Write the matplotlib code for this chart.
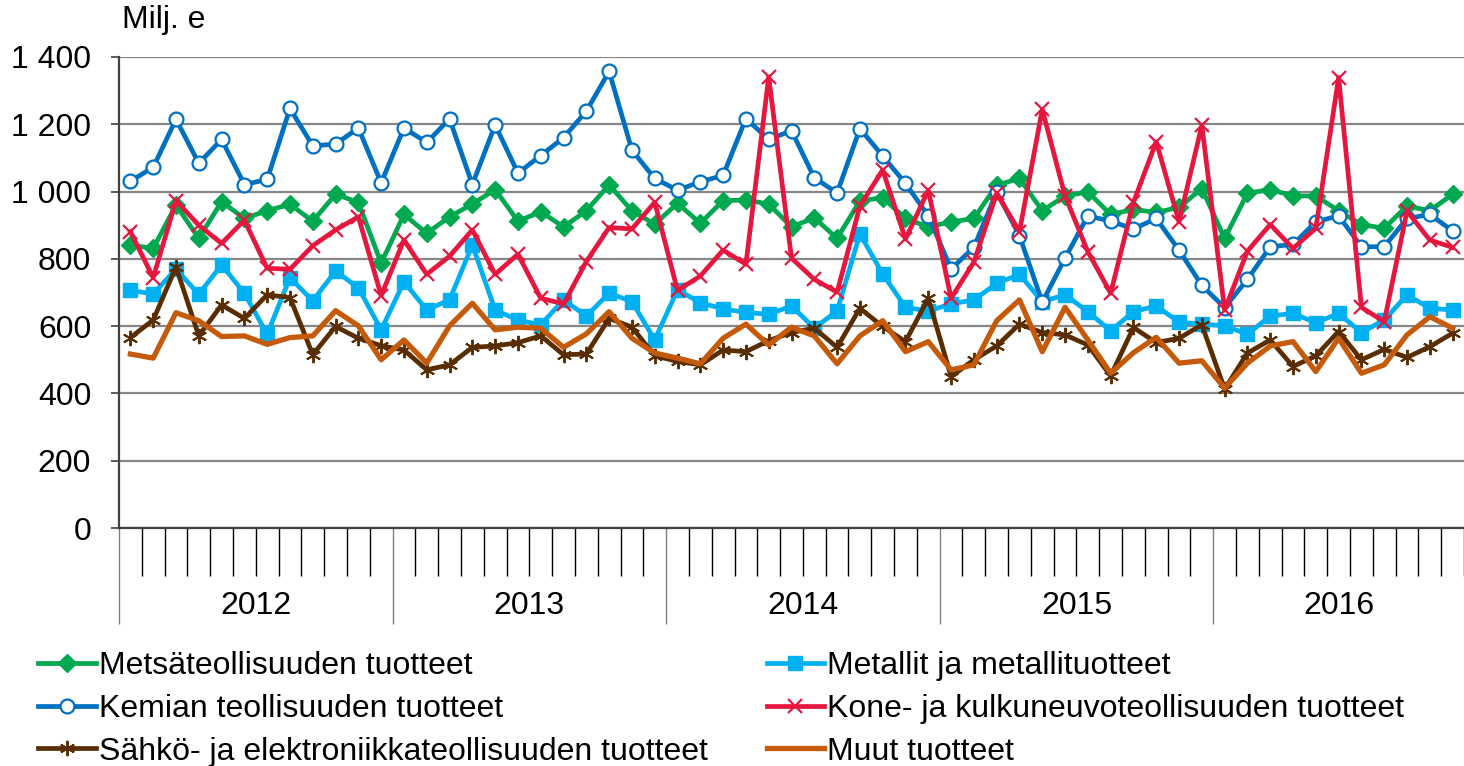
import matplotlib
matplotlib.use("Agg")
import matplotlib.pyplot as plt
import matplotlib.transforms as mtransforms
from matplotlib.ticker import FuncFormatter, FixedLocator

plt.rcParams['font.family'] = ['Liberation Sans', 'DejaVu Sans']

years = ['2012', '2013', '2014', '2015', '2016']
n_months = 59  # 2012-01 .. 2016-11

metsa = [841, 831, 960, 861, 970, 920, 943, 962, 912, 992, 968, 787,
         932, 876, 925, 963, 1006, 912, 940, 895, 943, 1020, 943, 903,
         965, 906, 973, 975, 963, 895, 922, 861, 972, 982, 920, 895,
         910, 920, 1019, 1039, 943, 987, 999, 932, 947, 938, 953, 1009,
         861, 995, 1006, 987, 987, 943, 902, 891, 957, 943, 992]
metallit = [706, 696, 769, 695, 782, 698, 576, 744, 675, 764, 714, 589,
            732, 648, 678, 841, 648, 618, 604, 678, 630, 698, 673, 559,
            708, 670, 651, 641, 635, 660, 594, 645, 874, 755, 656, 645,
            666, 678, 727, 754, 673, 693, 643, 586, 643, 660, 612, 606,
            601, 576, 630, 638, 610, 638, 581, 618, 693, 653, 648]
kemian = [1031, 1072, 1215, 1084, 1155, 1021, 1036, 1247, 1136, 1141, 1189, 1026,
          1189, 1146, 1216, 1021, 1198, 1055, 1107, 1160, 1239, 1357, 1123, 1039,
          1004, 1029, 1048, 1217, 1155, 1181, 1041, 996, 1187, 1106, 1024, 928,
          770, 834, 999, 869, 671, 802, 928, 912, 889, 920, 826, 721,
          655, 739, 836, 843, 910, 928, 836, 836, 920, 932, 883]
kone = [881, 744, 973, 900, 846, 915, 772, 769, 839, 886, 925, 691,
        856, 754, 808, 886, 754, 814, 683, 666, 792, 893, 889, 968,
        706, 749, 826, 784, 1341, 802, 739, 701, 957, 1064, 859, 1004,
        683, 790, 995, 881, 1244, 987, 821, 698, 968, 1148, 910, 1197,
        648, 823, 902, 831, 891, 1339, 656, 613, 942, 856, 834]
sahko = [566, 618, 776, 571, 663, 623, 693, 685, 515, 599, 564, 542,
         529, 470, 485, 537, 541, 551, 571, 515, 517, 623, 597, 512,
         495, 485, 529, 524, 557, 581, 594, 537, 653, 599, 554, 683,
         450, 500, 541, 606, 581, 574, 544, 452, 596, 551, 564, 604,
         413, 520, 559, 480, 512, 584, 500, 531, 507, 539, 579]
muut = [517, 505, 640, 616, 569, 571, 546, 566, 571, 646, 601, 500,
        559, 490, 601, 668, 589, 597, 594, 537, 577, 643, 564, 520,
        505, 488, 564, 606, 544, 597, 571, 488, 571, 616, 524, 554,
        470, 485, 616, 678, 524, 656, 559, 460, 521, 567, 490, 497,
        416, 490, 541, 554, 465, 564, 460, 485, 574, 628, 594]

labels = ['Metsäteollisuuden tuotteet', 'Metallit ja metallituotteet',
          'Kemian teollisuuden tuotteet', 'Kone- ja kulkuneuvoteollisuuden tuotteet',
          'Sähkö- ja elektroniikkateollisuuden tuotteet', 'Muut tuotteet']

W, H = 1464, 766
fs = 23
fig = plt.figure(figsize=(W / 100, H / 100), dpi=100)
ax = fig.add_axes([119 / W, 1 - 528 / H, (W - 119) / W, (528 - 57) / H])

x = [i + 0.5 for i in range(n_months)]
lw = 3.4

h_metsa, = ax.plot(x, metsa, color='#00A84F', lw=lw, marker='D', ms=9.5, zorder=3)
h_metallit, = ax.plot(x, metallit, color='#00B0F0', lw=lw, marker='s', ms=9.5, zorder=3)
h_kemian, = ax.plot(x, kemian, color='#0070C0', lw=lw, marker='o', ms=10,
                    mfc='white', mec='#0070C0', mew=1.6, zorder=3)
h_kone, = ax.plot(x, kone, color='#E5173F', lw=lw, marker='x', ms=10, mew=1.6, zorder=3)
h_sahko, = ax.plot(x, sahko, color='#5A2D00', lw=lw, marker=(6, 2, 0), ms=11, mew=1.4, zorder=3)
h_muut, = ax.plot(x, muut, color='#C55A0B', lw=lw + 0.4, zorder=3)

ax.set_xlim(0, n_months)
ax.set_ylim(0, 1400)
ax.yaxis.set_major_locator(FixedLocator(range(0, 1401, 200)))
ax.yaxis.set_major_formatter(FuncFormatter(lambda v, p: f'{int(v):,}'.replace(',', ' ')))
ax.grid(axis='y', color='#868686', lw=1.6, zorder=0)
ax.tick_params(axis='y', length=6, width=1.2, color='#404040', pad=14, labelsize=fs)

for s in ['top', 'right']:
    ax.spines[s].set_visible(False)
ax.spines['left'].set_color('#404040')
ax.spines['left'].set_linewidth(1.6)
ax.spines['bottom'].set_color('#404040')
ax.spines['bottom'].set_linewidth(1.6)

# month ticks and year separators
ax.set_xticks([i for i in range(0, n_months + 1, 12)])
ax.set_xticks([i for i in range(n_months + 1) if i % 12], minor=True)
ax.tick_params(axis='x', which='minor', length=34.5, width=1.0, color='#000000', direction='out')
ax.tick_params(axis='x', which='major', length=69, width=1.0, color='#808080', direction='out',
               labelbottom=False)

trans = mtransforms.blended_transform_factory(ax.transData, fig.transFigure)
for k, yr in enumerate(years):
    end = min(12 * (k + 1), n_months)
    ax.text((12 * k + end) / 2, 1 - 606 / H, yr, transform=trans, ha='center', va='center',
            fontsize=fs)

fig.text(122 / W, 1 - 20 / H, 'Milj. e', fontsize=fs, ha='left', va='center')

handles = [h_metsa, h_kemian, h_sahko, h_metallit, h_kone, h_muut]
leg_labels = [labels[0], labels[2], labels[4], labels[1], labels[3], labels[5]]
fig.legend(handles, leg_labels, loc='upper left', bbox_to_anchor=(38 / W, 1 - 651 / H),
           ncol=2, frameon=False, fontsize=fs, handlelength=1.8, handletextpad=0.1,
           columnspacing=1.85, labelspacing=0.4, borderaxespad=0, borderpad=0)

fig.savefig('out.png', dpi=100)
